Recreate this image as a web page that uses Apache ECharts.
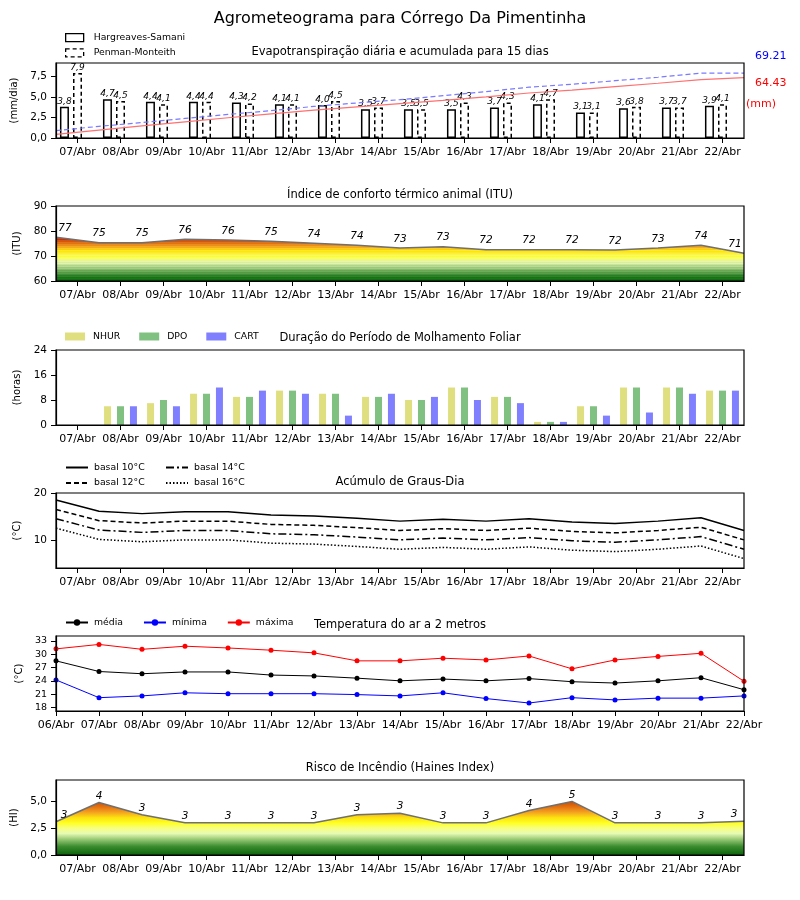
<!DOCTYPE html>
<html><head><meta charset="utf-8">
<script src="https://cdn.jsdelivr.net/npm/echarts@6/dist/echarts.min.js"></script>
<style>html,body{margin:0;padding:0;background:#fff}#c{width:800px;height:900px}</style>
</head><body><div id="c"></div>
<script>
// ---------- DATA ----------
const days16 = ['07/Abr','08/Abr','09/Abr','10/Abr','11/Abr','12/Abr','13/Abr','14/Abr','15/Abr','16/Abr','17/Abr','18/Abr','19/Abr','20/Abr','21/Abr','22/Abr'];
const days17 = ['06/Abr','07/Abr','08/Abr','09/Abr','10/Abr','11/Abr','12/Abr','13/Abr','14/Abr','15/Abr','16/Abr','17/Abr','18/Abr','19/Abr','20/Abr','21/Abr','22/Abr'];

const etHS = [3.8,4.7,4.4,4.4,4.3,4.1,4.0,3.5,3.5,3.5,3.7,4.1,3.1,3.6,3.7,3.9];
const etPM = [7.9,4.5,4.1,4.4,4.2,4.1,4.5,3.7,3.5,4.3,4.3,4.7,3.1,3.8,3.7,4.1];
const accHS = [3.8,8.5,12.9,17.3,21.6,25.7,29.7,33.2,36.7,40.2,43.9,48.0,51.1,54.7,58.4,62.3,64.4];
const accPM = [7.9,12.4,16.5,20.9,25.1,29.2,33.7,37.4,40.9,45.2,49.5,54.2,57.3,61.1,64.8,69.2,69.2];
const accTotals = ['69.21','64.43'];

const itu = [77.5,75.3,75.3,76.7,76.4,75.9,75.1,74.3,73.2,73.7,72.5,72.5,72.5,72.4,73.2,74.3,71.1];
const ituLabels = [77,75,75,76,76,75,74,74,73,73,72,72,72,72,73,74,71];

const nhur = [0,6,7,10,9,11,10,9,8,12,9,1,6,12,12,11];
const dpo  = [0,6,8,10,9,11,10,9,8,12,9,1,6,12,12,11];
const cart = [0,6,6,12,11,10,3,10,9,8,7,1,3,4,10,11];

const gd10 = [18.5,16.1,15.6,16.0,16.0,15.3,15.1,14.6,14.0,14.4,14.0,14.5,13.8,13.5,14.0,14.7,12.0];
const gd12 = [16.5,14.1,13.6,14.0,14.0,13.3,13.1,12.6,12.0,12.4,12.0,12.5,11.8,11.5,12.0,12.7,10.0];
const gd14 = [14.5,12.1,11.6,12.0,12.0,11.3,11.1,10.6,10.0,10.4,10.0,10.5,9.8,9.5,10.0,10.7,8.0];
const gd16 = [12.5,10.1,9.6,10.0,10.0,9.3,9.1,8.6,8.0,8.4,8.0,8.5,7.8,7.5,8.0,8.7,6.0];

const tMed = [28.5,26.1,25.6,26.0,26.0,25.3,25.1,24.6,24.0,24.4,24.0,24.5,23.8,23.5,24.0,24.7,22.0];
const tMin = [24.2,20.2,20.6,21.3,21.1,21.1,21.1,20.9,20.6,21.3,20.0,19.0,20.2,19.7,20.1,20.1,20.6];
const tMax = [31.2,32.2,31.1,31.8,31.4,30.9,30.3,28.5,28.5,29.1,28.7,29.6,26.7,28.7,29.5,30.2,23.9];

const hi = [3.1,4.9,3.75,3.0,3.0,3.0,3.0,3.75,3.9,3.0,3.0,4.15,5.0,3.0,3.0,3.0,3.15];
const hiLabels = [3,4,3,3,3,3,3,3,3,3,3,4,5,3,3,3,3];

// ---------- LAYOUT ----------
const FONT = 'DejaVu Sans';
const TOPS = [63, 206, 350, 493, 636, 780];
const GH = 75;
const comma1 = v => Number(v).toFixed(1).replace('.', ',');

function mkGrad(gi, min, max, stops) {
  const y0 = TOPS[gi], y1 = TOPS[gi] + GH;
  const s = stops.map(([v, c]) => ({offset: Math.min(1, Math.max(0, (max - v) / (max - min))), color: c}))
    .sort((a, b) => a.offset - b.offset);
  return new echarts.graphic.LinearGradient(0, y0, 0, y1, s, true);
}

const grids = TOPS.map(t => ({left: 56, right: 56, top: t, height: GH, show: true, borderColor: '#000', borderWidth: 1.2, backgroundColor: 'transparent', z: 10, outerBoundsMode: 'none', containLabel: false}));

const axLabel = {color: '#000', fontFamily: FONT, fontSize: 11};
const visX = (gi, data, bg) => ({type: 'category', gridIndex: gi, data: data, boundaryGap: bg, position: 'bottom',
  axisLine: {show: true, lineStyle: {color: '#000', width: 1.2}},
  axisTick: {show: true, alignWithLabel: true, length: 5, lineStyle: {color: '#000'}},
  axisLabel: Object.assign({interval: 0, margin: 9, hideOverlap: false}, axLabel), splitLine: {show: false}, z: 5});
const hidX = (gi) => ({type: 'category', gridIndex: gi, data: days17, boundaryGap: false, show: false});
const visY = (gi, min, max, vals, fmt, name, gap, fs) => ({type: 'value', gridIndex: gi, min: min, max: max,
  name: name, nameLocation: 'middle', nameGap: gap, nameRotate: 90,
  nameTextStyle: {color: '#000', fontFamily: FONT, fontSize: 10},
  axisLine: {show: true, lineStyle: {color: '#000', width: 1.2}},
  axisTick: {show: true, length: 5, lineStyle: {color: '#000'}, customValues: vals},
  axisLabel: Object.assign({margin: 9, formatter: fmt, customValues: vals}, axLabel, {fontSize: fs || 10.5}),
  splitLine: {show: false}, z: 5});

const xAxis = [
  visX(0, days16, true), hidX(0),
  visX(1, days16, true), hidX(1),
  visX(2, days16, true),
  visX(3, days16, true), hidX(3),
  visX(4, days17, false),
  visX(5, days16, true), hidX(5)
];
const yAxis = [
  visY(0, 0, 9.1, [0, 2.5, 5, 7.5], comma1, '(mm/dia)', 24),
  {type: 'value', gridIndex: 0, min: 0, max: 80, show: false},
  visY(1, 60, 90, [60, 70, 80, 90], v => String(v), '(ITU)', 17),
  visY(2, 0, 24, [0, 8, 16, 24], v => String(v), '(horas)', 18),
  visY(3, 4, 20, [10, 20], v => String(v), '(°C)', 19),
  visY(4, 17.2, 34.1, [18, 21, 24, 27, 30, 33], v => String(v), '(°C)', 19, 9.5),
  visY(5, 0, 7, [0, 2.5, 5], comma1, '(HI)', 25)
];

const barLabel = {show: true, position: 'top', distance: 1, fontStyle: 'italic', fontSize: 9, fontFamily: FONT, color: '#000', formatter: p => comma1(p.value)};
const ptLabel = (labels, dist) => ({show: true, position: 'top', distance: dist, fontStyle: 'italic', fontSize: 10.5, fontFamily: FONT, color: '#000', formatter: p => String(labels[p.dataIndex])});
const edgeItems = (arr, l, r) => arr.map((v, i) => ({value: v, label: i === 0 ? {offset: [l, 0]} : (i === arr.length - 1 ? {offset: [r, 0]} : {})}));

const ituStops = [
  [60,'#006400'],[61,'#006400'],[61,'#1c761c'],[62,'#1c761c'],[62,'#3a8a32'],[63,'#3a8a32'],[63,'#5a9e4a'],[64,'#5a9e4a'],
  [64,'#7db462'],[65,'#7db462'],[65,'#a3cc82'],[66,'#a3cc82'],[66,'#c8e4a0'],[67,'#c8e4a0'],[67,'#e2f4ac'],[68,'#e2f4ac'],
  [68,'#f2fca0'],[69,'#f2fca0'],[69,'#fafe60'],[70,'#fafe60'],[70,'#ffff10'],[72,'#ffff10'],[72,'#ffe010'],[72.8,'#ffe010'],
  [72.8,'#f8b820'],[73.6,'#f8b820'],[73.6,'#f09a20'],[74.4,'#f09a20'],[74.4,'#e88018'],[75.2,'#e88018'],[75.2,'#dc6410'],[76,'#dc6410'],
  [76,'#d04808'],[76.8,'#d04808'],[76.8,'#c81a00'],[90,'#c81a00']
];
const hiStops = [
  [0,'#0a640a'],[0.8,'#3c8c30'],[1.5,'#9ccc78'],[2.0,'#e6fab4'],[2.5,'#f8ff80'],[3.0,'#ffff20'],[3.5,'#fce010'],
  [4.0,'#f4a020'],[4.5,'#e47010'],[5.0,'#cc4a00'],[7,'#c03000']
];

const hiddenSym = {symbol: 'circle', symbolSize: 1, showSymbol: true, showAllSymbol: true, itemStyle: {color: 'rgba(0,0,0,0)'}};

const series = [
  // Panel 1
  {name: 'Hargreaves-Samani', type: 'bar', xAxisIndex: 0, yAxisIndex: 0, data: etHS, barWidth: 9, barGap: '45%',
   itemStyle: {color: '#fff', borderColor: '#000', borderWidth: 1.5}, label: barLabel, z: 3},
  {name: 'Penman-Monteith', type: 'bar', xAxisIndex: 0, yAxisIndex: 0, data: etPM, barWidth: 9, barGap: '45%',
   itemStyle: {color: '#fff', borderColor: '#000', borderWidth: 1.5, borderType: [4, 3]}, label: barLabel, z: 3},
  {name: '_pad', type: 'bar', xAxisIndex: 0, yAxisIndex: 0, data: etPM.map(() => null), barWidth: 9, barGap: '45%', silent: true},
  {name: 'accHS', type: 'line', xAxisIndex: 1, yAxisIndex: 1, data: accHS, symbol: 'none',
   lineStyle: {color: '#ff7070', width: 1.2}, z: 4},
  {name: 'accPM', type: 'line', xAxisIndex: 1, yAxisIndex: 1, data: accPM, symbol: 'none',
   lineStyle: {color: '#7a7aff', width: 1.2, type: [5, 3]}, z: 4},
  // Panel 2
  Object.assign({name: 'ITU', type: 'line', xAxisIndex: 3, yAxisIndex: 2, data: edgeItems(itu, 9, -9),
   lineStyle: {color: '#707070', width: 1.5}, areaStyle: {color: mkGrad(1, 60, 90, ituStops), opacity: 1},
   label: ptLabel(ituLabels, 3)}, hiddenSym),
  // Panel 3
  {name: 'NHUR', type: 'bar', xAxisIndex: 4, yAxisIndex: 3, data: nhur, barWidth: 7, barGap: '85%', itemStyle: {color: '#dfdf80'}},
  {name: 'DPO', type: 'bar', xAxisIndex: 4, yAxisIndex: 3, data: dpo, barWidth: 7, barGap: '85%', itemStyle: {color: '#80c080'}},
  {name: 'CART', type: 'bar', xAxisIndex: 4, yAxisIndex: 3, data: cart, barWidth: 7, barGap: '85%', itemStyle: {color: '#8080ff'}},
  // Panel 4
  {name: 'basal 10°C', type: 'line', xAxisIndex: 6, yAxisIndex: 4, data: gd10, symbol: 'none', lineStyle: {color: '#000', width: 1.5, type: 'solid'}, itemStyle: {color: '#000'}},
  {name: 'basal 12°C', type: 'line', xAxisIndex: 6, yAxisIndex: 4, data: gd12, symbol: 'none', lineStyle: {color: '#000', width: 1.5, type: [5, 3]}, itemStyle: {color: '#000'}},
  {name: 'basal 14°C', type: 'line', xAxisIndex: 6, yAxisIndex: 4, data: gd14, symbol: 'none', lineStyle: {color: '#000', width: 1.5, type: [8, 3, 2, 3]}, itemStyle: {color: '#000'}},
  {name: 'basal 16°C', type: 'line', xAxisIndex: 6, yAxisIndex: 4, data: gd16, symbol: 'none', lineStyle: {color: '#000', width: 1.5, type: [1.5, 2]}, itemStyle: {color: '#000'}},
  // Panel 5
  {name: 'média', type: 'line', xAxisIndex: 7, yAxisIndex: 5, data: tMed, symbol: 'circle', symbolSize: 5, showAllSymbol: true, lineStyle: {color: '#000', width: 1}, itemStyle: {color: '#000'}},
  {name: 'mínima', type: 'line', xAxisIndex: 7, yAxisIndex: 5, data: tMin, symbol: 'circle', symbolSize: 5, showAllSymbol: true, lineStyle: {color: '#0000ff', width: 1}, itemStyle: {color: '#0000ff'}},
  {name: 'máxima', type: 'line', xAxisIndex: 7, yAxisIndex: 5, data: tMax, symbol: 'circle', symbolSize: 5, showAllSymbol: true, lineStyle: {color: '#ff0000', width: 1}, itemStyle: {color: '#ff0000'}},
  // Panel 6
  Object.assign({name: 'HI', type: 'line', xAxisIndex: 9, yAxisIndex: 6, data: edgeItems(hi, 8, -10),
   lineStyle: {color: '#707070', width: 1.5}, areaStyle: {color: mkGrad(5, 0, 7, hiStops), opacity: 1},
   label: ptLabel(hiLabels, 0.5)}, hiddenSym)
];

const legTxt = {color: '#000', fontFamily: FONT, fontSize: 9.3};
const noSym = {color: 'rgba(0,0,0,0)', borderWidth: 0};
const legend = [
  {orient: 'vertical', left: 65, top: 33, padding: 0, icon: 'rect', itemWidth: 18, itemHeight: 8, itemGap: 6, textStyle: Object.assign({padding: [0, 0, 0, 5]}, legTxt), selectedMode: false,
   data: [{name: 'Hargreaves-Samani', itemStyle: {color: '#fff', borderColor: '#000', borderWidth: 1.3}},
          {name: 'Penman-Monteith', itemStyle: {color: '#fff', borderColor: '#000', borderWidth: 1.3, borderType: [4, 3]}}]},
  {orient: 'horizontal', left: 65, top: 332, padding: 0, icon: 'rect', itemWidth: 20, itemHeight: 8, itemGap: 19, textStyle: Object.assign({padding: [0, 0, 0, 3]}, legTxt), selectedMode: false,
   data: ['NHUR', 'DPO', 'CART']},
  {orient: 'vertical', left: 65, top: 463, padding: 0, itemWidth: 22, itemHeight: 8, itemGap: 6.5, textStyle: Object.assign({padding: [0, 0, 0, 1]}, legTxt), selectedMode: false,
   data: [{name: 'basal 10°C', itemStyle: noSym}, {name: 'basal 12°C', itemStyle: noSym}]},
  {orient: 'vertical', left: 165, top: 463, padding: 0, itemWidth: 22, itemHeight: 8, itemGap: 6.5, textStyle: Object.assign({padding: [0, 0, 0, 1]}, legTxt), selectedMode: false,
   data: [{name: 'basal 14°C', itemStyle: noSym}, {name: 'basal 16°C', itemStyle: noSym}]},
  {orient: 'horizontal', left: 65, top: 618, padding: 0, itemWidth: 22, itemHeight: 8, itemGap: 20, textStyle: Object.assign({padding: [0, 0, 0, 1]}, legTxt), selectedMode: false,
   data: ['média', 'mínima', 'máxima']}
];

const subT = (text, top) => ({text: text, left: 'center', top: top, textStyle: {fontFamily: FONT, fontSize: 11.5, fontWeight: 'normal', color: '#000'}});
const title = [
  {text: 'Agrometeograma para Córrego Da Pimentinha', left: 'center', top: 6, textStyle: {fontFamily: FONT, fontSize: 16, fontWeight: 'normal', color: '#000'}},
  subT('Evapotranspiração diária e acumulada para 15 dias', 41),
  subT('Índice de conforto térmico animal (ITU)', 184),
  subT('Duração do Período de Molhamento Foliar', 327),
  subT('Acúmulo de Graus-Dia', 471),
  subT('Temperatura do ar a 2 metros', 614),
  subT('Risco de Incêndio (Haines Index)', 757)
];

const graphic = [
  {type: 'text', left: 755, top: 51, style: {text: accTotals[0], fill: '#0000ff', font: '11px "DejaVu Sans"'}},
  {type: 'text', left: 755, top: 78, style: {text: accTotals[1], fill: '#ff0000', font: '11px "DejaVu Sans"'}},
  {type: 'text', left: 746, top: 99, style: {text: '(mm)', fill: '#ff0000', font: '11px "DejaVu Sans"'}}
];

const chart = echarts.init(document.getElementById('c'), null, {renderer: 'canvas'});
chart.setOption({animation: false, backgroundColor: '#fff', textStyle: {fontFamily: FONT},
  title, legend, grid: grids, xAxis, yAxis, series, graphic});
</script></body></html>
